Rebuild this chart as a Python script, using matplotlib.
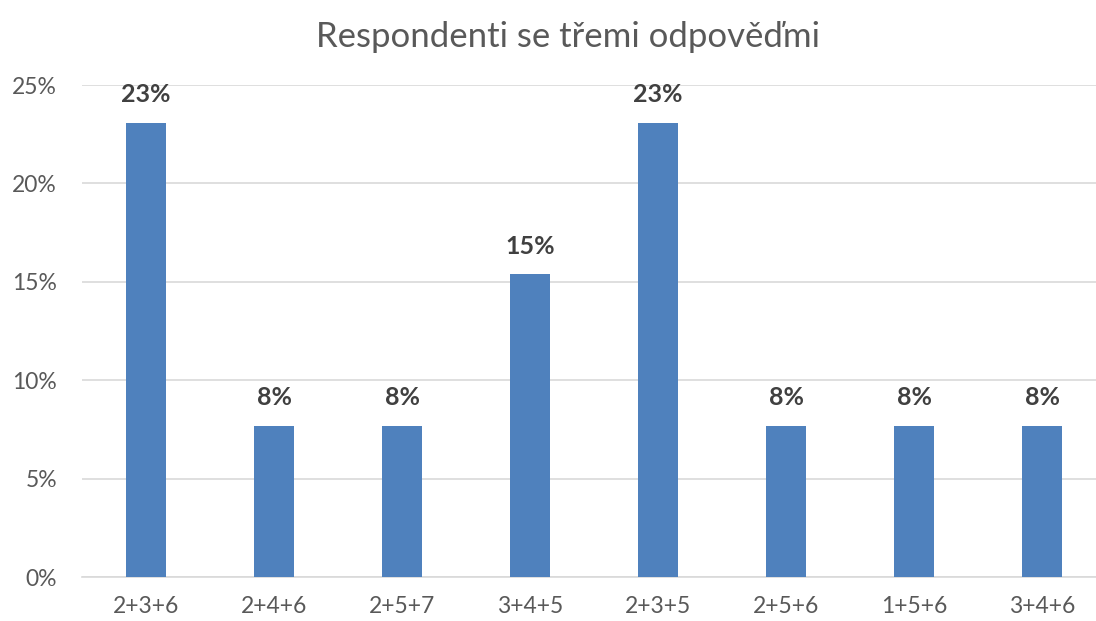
import matplotlib.pyplot as plt
from matplotlib.ticker import PercentFormatter

plt.rcParams['font.family'] = ['Lato', 'DejaVu Sans']

categories = ['2+3+6', '2+4+6', '2+5+7', '3+4+5', '2+3+5', '2+5+6', '1+5+6', '3+4+6']
values = [0.2308, 0.0769, 0.0769, 0.1538, 0.2308, 0.0769, 0.0769, 0.0769]
labels = ['23%', '8%', '8%', '15%', '23%', '8%', '8%', '8%']

fig = plt.figure(figsize=(10.96, 6.21), dpi=100)
# plot area runs past the right edge, as in the original
ax = fig.add_axes([82/1096, 44/621, 1024/1096, 492/621])

x = range(len(categories))
ax.bar(x, values, width=0.31, color='#4F81BD', zorder=3)
for xi, v, lab in zip(x, values, labels):
    ax.text(xi, v + 0.0085, lab, ha='center', va='bottom', fontsize=18,
            fontweight='bold', color='#404040')

ax.set_xlim(-0.5, len(categories) - 0.5)
ax.set_ylim(0, 0.25)
ax.set_yticks([0, 0.05, 0.10, 0.15, 0.20, 0.25])
ax.yaxis.set_major_formatter(PercentFormatter(1.0, decimals=0))
ax.set_xticks(list(x))
ax.set_xticklabels(categories)
ax.tick_params(axis='both', length=0, labelsize=16.5, labelcolor='#595959')
ax.tick_params(axis='y', pad=18)
ax.tick_params(axis='x', pad=14)
ax.grid(axis='y', color='#D9D9D9', linewidth=1.2, zorder=0)
for s in ['top', 'right', 'left']:
    ax.spines[s].set_visible(False)
ax.spines['bottom'].set_color('#D9D9D9')
ax.spines['bottom'].set_linewidth(1.2)

fig.text(568/1096, 1 - 37/621, 'Respondenti se třemi odpověďmi', ha='center',
         va='center', fontsize=25, color='#595959')

fig.savefig('out.png', dpi=100)
